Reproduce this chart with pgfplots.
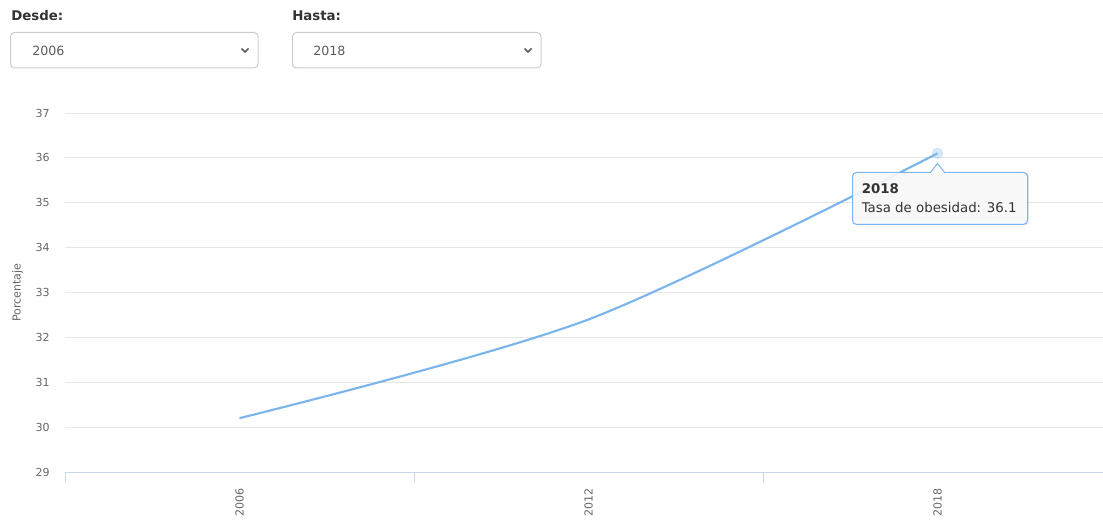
\documentclass[border=0pt]{standalone}
\usepackage{pgfplots}
\pgfplotsset{compat=1.18}
\usepackage{fontspec}
\setmainfont{DejaVu Sans}
\definecolor{linec}{HTML}{7CB5EC}
\definecolor{gridc}{HTML}{E6E6E6}
\definecolor{axisc}{HTML}{CCD6EB}
\definecolor{labc}{HTML}{666666}
\definecolor{darkc}{HTML}{333333}
\definecolor{boxc}{HTML}{CCCCCC}
\begin{document}
\begin{tikzpicture}
\begin{scope}[x=0.75pt,y=0.75pt]
% selectors
\node[anchor=base west,inner sep=0,font=\bfseries\fontsize{10}{12}\selectfont,text=darkc] at (11,498) {Desde:};
\draw[boxc,line width=0.75pt,rounded corners=3pt] (10.5,451) rectangle (258,486.5);
\node[anchor=base west,inner sep=0,font=\fontsize{9.5}{12}\selectfont,text=darkc!80] at (32,463) {2006};
\draw[darkc!80,line width=1.3pt] (241.5,470.5)--(245,467)--(248.5,470.5);
\node[anchor=base west,inner sep=0,font=\bfseries\fontsize{10}{12}\selectfont,text=darkc] at (292,498) {Hasta:};
\draw[boxc,line width=0.75pt,rounded corners=3pt] (292.5,451) rectangle (541,486.5);
\node[anchor=base west,inner sep=0,font=\fontsize{9.5}{12}\selectfont,text=darkc!80] at (313,463) {2018};
\draw[darkc!80,line width=1.3pt] (524.5,470.5)--(528,467)--(531.5,470.5);
\end{scope}
\begin{axis}[
  at={(48.75pt,35.25pt)}, anchor=south west,
  scale only axis, width=785.25pt, height=269.25pt,
  xmin=-0.5, xmax=2.5, ymin=29, ymax=37,
  clip=false,
  axis line style={draw=none},
  tick pos=left,
  xtick={0,1,2}, xticklabels={2006,2012,2018},
  ytick={29,30,31,32,33,34,35,36,37},
  ymajorgrids, grid style={gridc,line width=0.75pt},
  major tick length=0pt,
  /pgf/number format/assume math mode=true,
  tick label style={font=\fontsize{8.3}{10}\selectfont,text=labc},
  xticklabel style={rotate=90,anchor=east,xshift=-9pt},
  yticklabel style={anchor=east,xshift=-8pt},
  ylabel={Porcentaje},
  ylabel style={font=\fontsize{8.3}{10}\selectfont,text=labc,yshift=2.5pt},
  extra x ticks={-0.5,0.5,1.5,2.5},
  extra x tick labels={},
  extra x tick style={grid=none,major tick length=7.5pt,tick align=outside,tick pos=left,tick style={axisc,line width=0.75pt}},
]
\draw[axisc,line width=0.75pt] (axis cs:-0.5,29) -- (axis cs:2.5,29);
\addplot[linec,line width=1.6pt,smooth,tension=0.5,no marks] coordinates {(0,30.2) (1,32.4) (2,36.1)};
\addplot[only marks,mark=*,mark size=4pt,color=linec,opacity=0.3] coordinates {(2,36.1)};
\coordinate (pt) at (axis cs:2,36.1);
\end{axis}
% tooltip
\begin{scope}[x=0.75pt,y=0.75pt]
\fill[black,opacity=0.08,rounded corners=3pt] ([shift={(-84,-72)}]pt) rectangle ([shift={(91.5,-19)}]pt);
\path[fill=white!96!gray,fill opacity=0.9,draw=linec,line width=0.75pt,rounded corners=3pt]
  ([shift={(-85,-71)}]pt) -- ([shift={(90,-71)}]pt) -- ([shift={(90,-19)}]pt) [sharp corners] -- ([shift={(7,-19)}]pt) -- ([shift={(0,-10)}]pt) -- ([shift={(-7,-19)}]pt) [rounded corners=3pt] -- ([shift={(-85,-19)}]pt) -- cycle;
\node[anchor=base west,inner sep=0,font=\bfseries\fontsize{10}{12}\selectfont,text=darkc] at ([shift={(-76,-40)}]pt) {2018};
\node[anchor=base west,inner sep=0,font=\fontsize{10}{12}\selectfont,text=darkc] at ([shift={(-76,-59)}]pt) {Tasa de obesidad: 36.1};
\pgfresetboundingbox
\useasboundingbox (0,0) rectangle (1103,519);
\end{scope}
\end{tikzpicture}
\end{document}
